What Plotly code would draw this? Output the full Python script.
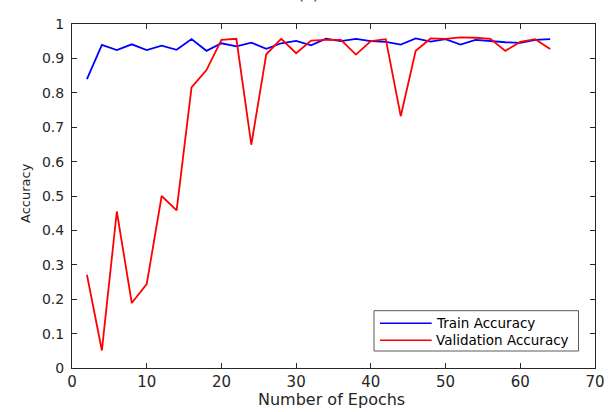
import plotly.graph_objects as go

# Training history: accuracy every 2 epochs
epochs = list(range(2, 66, 2))
train_acc = [0.840, 0.939, 0.924, 0.941, 0.924, 0.937, 0.925, 0.956, 0.922, 0.944,
             0.935, 0.946, 0.928, 0.944, 0.951, 0.938, 0.957, 0.950, 0.957, 0.950,
             0.948, 0.940, 0.958, 0.949, 0.956, 0.940, 0.954, 0.950, 0.947, 0.945,
             0.954, 0.956]
val_acc = [0.271, 0.051, 0.455, 0.189, 0.244, 0.500, 0.458, 0.816, 0.866, 0.954,
           0.957, 0.649, 0.912, 0.957, 0.915, 0.952, 0.954, 0.954, 0.911, 0.950,
           0.956, 0.732, 0.922, 0.958, 0.957, 0.961, 0.960, 0.957, 0.922, 0.948,
           0.956, 0.927]

series_names = ["Train Accuracy", "Validation Accuracy"]
series_colors = ["#0000ff", "#ff0000"]

x_ticks = list(range(0, 80, 10))
y_ticks = [round(i * 0.1, 1) for i in range(11)]

AX = "#262626"
FONT = "DejaVu Sans"

# Plot-area geometry in pixels (used to place the boxed legend)
W, H = 616, 412
ML, MR, MT, MB = 72, 21, 24, 44
PW, PH = W - ML - MR, H - MT - MB


def px(xp):
    return (xp - ML) / PW


def py(yp):
    return (H - MB - yp) / PH


fig = go.Figure()
for name, ys, col in zip(series_names, [train_acc, val_acc], series_colors):
    fig.add_trace(go.Scatter(x=epochs, y=ys, mode="lines", name=name,
                             line=dict(color=col, width=1.8)))

axis_common = dict(showgrid=False, zeroline=False, showline=True, linecolor=AX,
                   linewidth=1, mirror="ticks", ticks="inside", ticklen=5,
                   tickcolor=AX, tickwidth=1)

fig.update_xaxes(range=[0, 70], tickvals=x_ticks,
                 tickfont=dict(family=FONT, size=15, color=AX), **axis_common)
fig.update_yaxes(range=[0, 1], tickvals=y_ticks, ticklabelstandoff=4,
                 tickfont=dict(family=FONT, size=14, color=AX), **axis_common)

# Boxed legend in the lower right corner
shapes = [dict(type="rect", xref="paper", yref="paper",
               x0=px(374), x1=px(578.5), y0=py(351), y1=py(310.7),
               fillcolor="white", line=dict(color="#5a5a5a", width=1), layer="above")]
annotations = []
for i, (name, col) in enumerate(zip(series_names, series_colors)):
    row_y = py(323.3 + i * 16.9)
    shapes.append(dict(type="line", xref="paper", yref="paper",
                       x0=px(380), x1=px(431.7), y0=row_y, y1=row_y,
                       line=dict(color=col, width=1.5), layer="above"))
    annotations.append(dict(text=name, xref="paper", yref="paper",
                            x=px(434), y=row_y, xanchor="left", yanchor="middle",
                            showarrow=False,
                            font=dict(family=FONT, size=13.5, color="#000000")))

annotations += [
    dict(text="Number of Epochs", xref="paper", yref="paper", x=0.497, y=-0.126,
         xanchor="center", yanchor="bottom", showarrow=False,
         font=dict(family=FONT, size=16, color=AX)),
    dict(text="Accuracy", xref="paper", yref="paper", x=-0.089, y=0.51,
         xanchor="center", yanchor="middle", showarrow=False, textangle=-90,
         font=dict(family=FONT, size=13, color=AX)),
    dict(text="(a)", xref="paper", yref="paper", x=0.453, y=1.087,
         xanchor="center", yanchor="middle", showarrow=False,
         font=dict(family=FONT, size=15, color=AX)),
]

fig.update_layout(
    width=W, height=H,
    margin=dict(l=ML, r=MR, t=MT, b=MB),
    paper_bgcolor="white", plot_bgcolor="white",
    font=dict(family=FONT, color=AX),
    showlegend=False,
    shapes=shapes,
    annotations=annotations,
)

fig.write_html("out.html")
